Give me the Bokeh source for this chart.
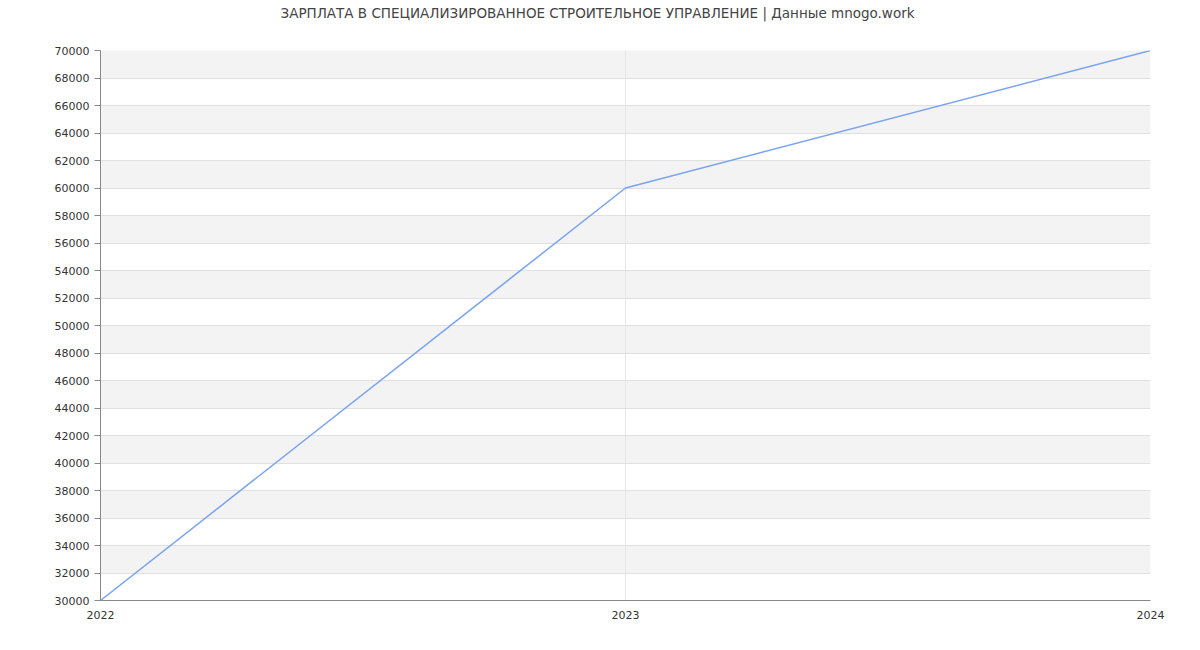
from bokeh.plotting import figure
from bokeh.models import FixedTicker, Range1d, Title, NumeralTickFormatter
from bokeh.embed import file_html
from bokeh.resources import INLINE

years = [2022, 2023, 2024]
salaries = [30000, 60000, 70000]
y_ticks = list(range(30000, 70001, 2000))
title_text = "ЗАРПЛАТА В  СПЕЦИАЛИЗИРОВАННОЕ СТРОИТЕЛЬНОЕ УПРАВЛЕНИЕ | Данные mnogo.work"

FONT = "DejaVu Sans"

p = figure(width=1200, height=650, output_backend="svg", toolbar_location=None,
           x_range=Range1d(years[0], years[-1]), y_range=Range1d(y_ticks[0], y_ticks[-1]),
           min_border_left=100, min_border_right=50, min_border_top=50, min_border_bottom=50)
p.title = None
# spacer between title and plot frame
spacer = Title(text=" ", standoff=0, text_font=FONT, text_font_size="24px")
p.add_layout(spacer, "above")
t = Title(text=title_text, align="left", offset=180, vertical_align="bottom", text_font=FONT,
          text_font_size="13.5px", text_font_style="normal", text_color="#444444",
          standoff=0)
p.add_layout(t, "above")

p.outline_line_color = None
p.background_fill_color = "white"
p.border_fill_color = "white"

# alternating bands (grey where lower bound is 32000, 36000, ...)
band_bottoms = y_ticks[1:-1:2]
band_tops = y_ticks[2::2]
p.quad(left=years[0], right=years[-1], bottom=band_bottoms, top=band_tops,
       fill_color="#f3f3f3", line_color=None, level="image")

p.line(years, salaries, line_color="#7aa3f0", line_width=1.5)

p.xaxis.ticker = FixedTicker(ticks=years)
p.yaxis.ticker = FixedTicker(ticks=y_ticks)
p.yaxis.formatter = NumeralTickFormatter(format="0")

for ax in (p.xaxis, p.yaxis):
    ax.axis_line_color = "#888888"
    ax.major_label_text_font = FONT
    ax.major_label_text_font_size = "11px"
    ax.major_label_text_color = "#333333"
    ax.minor_tick_line_color = None
    ax.major_tick_in = 0

p.yaxis.major_tick_out = 6
p.yaxis.major_tick_line_color = "#888888"
p.yaxis.major_label_standoff = 5
p.xaxis.major_tick_line_color = None
p.xaxis.major_tick_out = 0
p.xaxis.major_label_standoff = 10

p.xgrid.grid_line_color = "#e6e6e6"
p.ygrid.grid_line_color = "#e0e0e0"

open("out.html", "w").write(file_html(p, INLINE))
